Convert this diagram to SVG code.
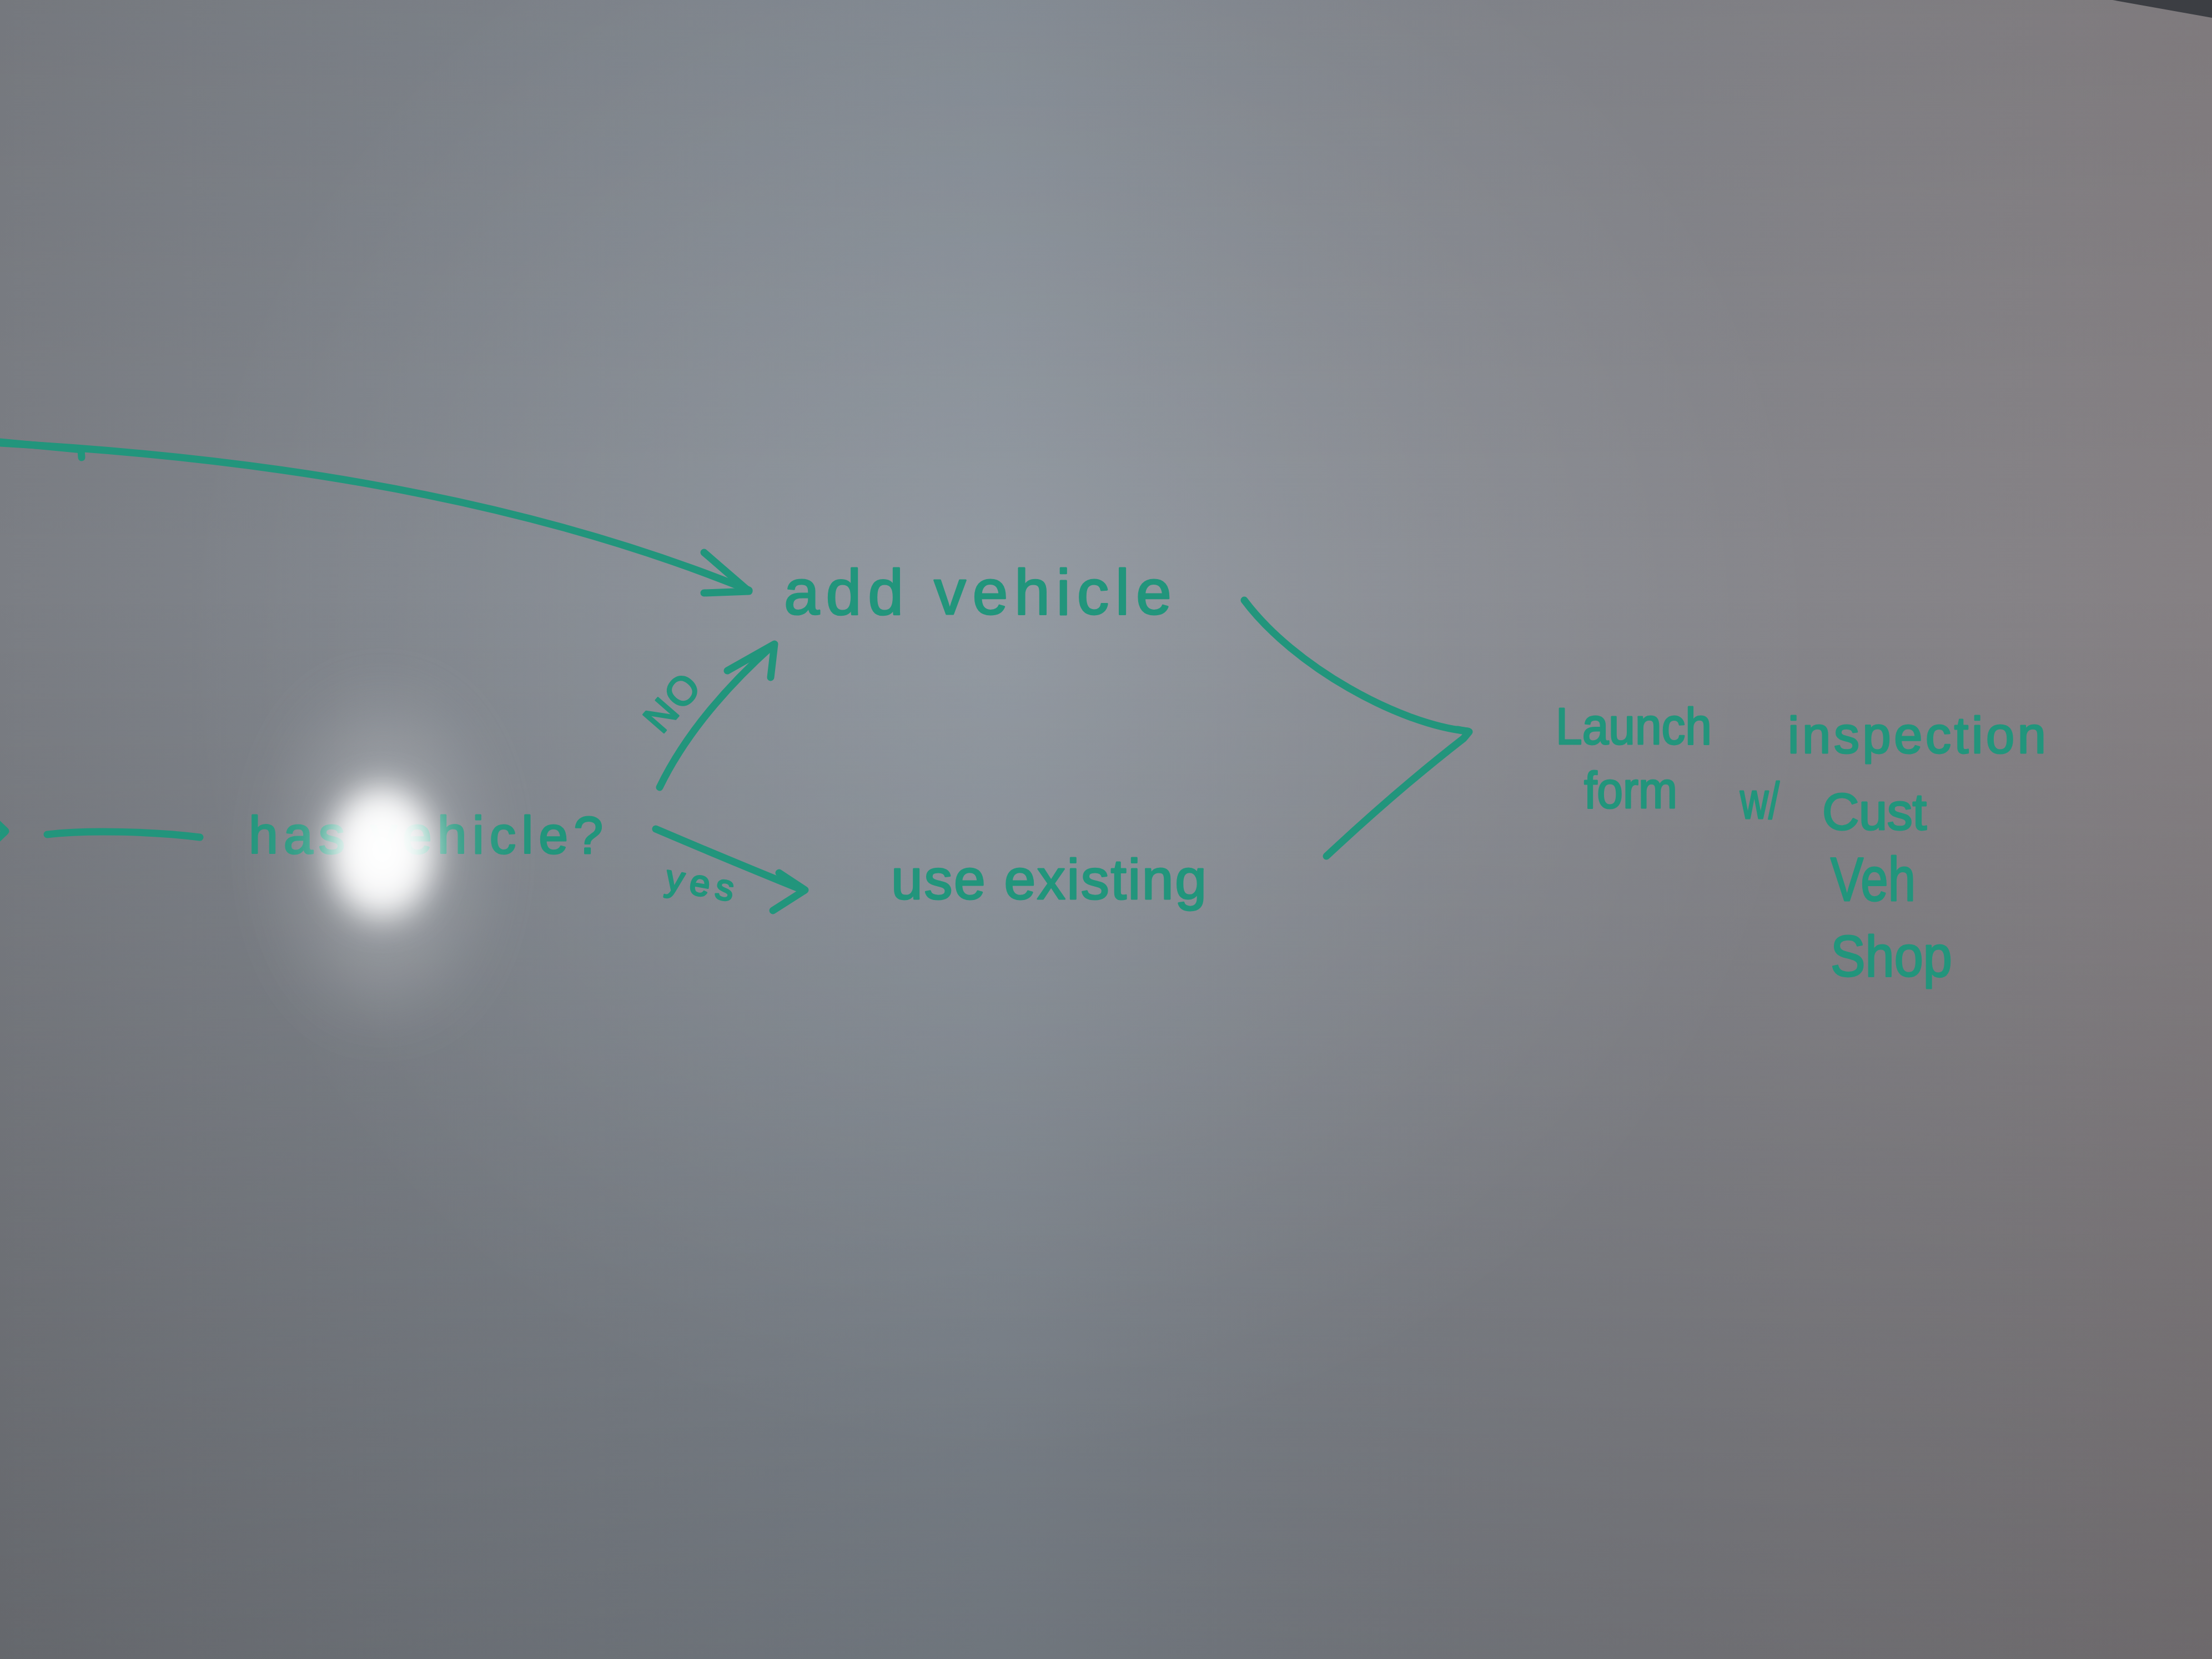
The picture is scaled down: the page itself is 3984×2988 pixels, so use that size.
<svg xmlns="http://www.w3.org/2000/svg" width="3984" height="2988" viewBox="0 0 3984 2988">
  <defs>
    <style>
      .ink { fill: none; stroke: #22957c; stroke-width: 13; stroke-linecap: round; stroke-linejoin: round; }
      .hand { fill: #22957c; stroke: #22957c; stroke-width: 3; stroke-linejoin: round; font-family: "Liberation Sans", "DejaVu Sans", sans-serif; }
    </style>
    <linearGradient id="boardH" x1="0" y1="0" x2="1" y2="0">
      <stop offset="0" stop-color="#7b7e84"/>
      <stop offset="0.45" stop-color="#878f98"/>
      <stop offset="1" stop-color="#858083"/>
    </linearGradient>
    <linearGradient id="boardV" x1="0" y1="0" x2="0" y2="1">
      <stop offset="0" stop-color="#000" stop-opacity="0.05"/>
      <stop offset="0.35" stop-color="#000" stop-opacity="0"/>
      <stop offset="1" stop-color="#000" stop-opacity="0.18"/>
    </linearGradient>
    <radialGradient id="boardLight" cx="1800" cy="1150" r="1500" gradientUnits="userSpaceOnUse">
      <stop offset="0" stop-color="#fff" stop-opacity="0.1"/>
      <stop offset="1" stop-color="#fff" stop-opacity="0"/>
    </radialGradient>
    <filter id="soft" x="-100%" y="-100%" width="300%" height="300%">
      <feGaussianBlur stdDeviation="30"/>
    </filter>
    <filter id="softWide" x="-100%" y="-100%" width="300%" height="300%">
      <feGaussianBlur stdDeviation="70"/>
    </filter>
  </defs>

  <!-- whiteboard surface -->
  <rect width="3984" height="2988" fill="url(#boardH)"/>
  <rect width="3984" height="2988" fill="url(#boardV)"/>
  <rect width="3984" height="2988" fill="url(#boardLight)"/>
  <!-- frame edge in the top right corner -->
  <polygon points="3805,0 3984,0 3984,32" fill="#3c3e43"/>

  <!-- connectors -->
  <g id="connectors">
    <!-- long arrow from the left into "add vehicle" -->
    <path class="ink" d="M0,798 C400,820 900,880 1349,1063"/>
    <path class="ink" stroke-width="18" d="M0,796 L148,810"/>
    <path class="ink" d="M146,810 L147,824"/>
    <path class="ink" d="M1268,995 L1349,1065 L1268,1068"/>
    <!-- incoming line to "has vehicle?" -->
    <path class="ink" d="M-30,1458 L10,1497 L-30,1536"/>
    <path class="ink" stroke-width="15" d="M85,1503 C160,1494 280,1498 360,1508"/>
    <!-- NO branch -->
    <path class="ink" d="M1188,1418 Q1250,1290 1390,1164"/>
    <path class="ink" d="M1310,1208 L1395,1160 L1388,1220"/>
    <!-- yes branch -->
    <path class="ink" d="M1181,1493 Q1310,1548 1448,1604"/>
    <path class="ink" d="M1403,1572 L1450,1603 L1392,1640"/>
    <!-- both branches join into the launch step -->
    <path class="ink" d="M2241,1081 C2330,1200 2520,1305 2644,1317"/>
    <path class="ink" d="M2625,1314 L2646,1318 L2636,1330 Q2520,1420 2389,1542"/>
  </g>

  <g id="node-add-vehicle">
    <text class="hand" x="1412" y="1106" font-size="115" textLength="698" lengthAdjust="spacing">add vehicle</text>
  </g>

  <g id="node-has-vehicle">
    <text class="hand" x="448" y="1537" font-size="95" textLength="638" lengthAdjust="spacing">has vehicle?</text>
  </g>

  <g id="node-use-existing">
    <text class="hand" x="1605" y="1619" font-size="102" textLength="568" lengthAdjust="spacing">use existing</text>
  </g>

  <g id="label-no">
    <text class="hand" font-size="72" textLength="112" lengthAdjust="spacing" transform="translate(1192,1324) rotate(-49)">NO</text>
  </g>

  <g id="label-yes">
    <text class="hand" font-size="66" textLength="124" lengthAdjust="spacing" transform="translate(1196,1602) rotate(10)">yes</text>
  </g>

  <g id="node-launch-inspection">
    <text class="hand" x="2802" y="1340" font-size="92" textLength="281" lengthAdjust="spacingAndGlyphs">Launch</text>
    <text class="hand" x="3220" y="1356" font-size="92" textLength="465" lengthAdjust="spacing">inspection</text>
    <text class="hand" x="2853" y="1455" font-size="92" textLength="168" lengthAdjust="spacingAndGlyphs">form</text>
    <text class="hand" x="3134" y="1474" font-size="92" textLength="71" lengthAdjust="spacingAndGlyphs">w/</text>
    <text class="hand" x="3282" y="1494" font-size="92" textLength="188" lengthAdjust="spacing">Cust</text>
    <text class="hand" x="3297" y="1622" font-size="112" textLength="153" lengthAdjust="spacingAndGlyphs">Veh</text>
    <text class="hand" x="3297" y="1758" font-size="104" textLength="219" lengthAdjust="spacingAndGlyphs">Shop</text>
  </g>

  <!-- light reflection on the board surface -->
  <g id="glare">
    <ellipse cx="690" cy="1540" rx="150" ry="260" fill="#ffffff" opacity="0.22" filter="url(#softWide)"/>
    <ellipse cx="688" cy="1535" rx="95" ry="120" fill="#ffffff" opacity="0.9" filter="url(#soft)"/>
    <ellipse cx="688" cy="1530" rx="55" ry="70" fill="#ffffff" filter="url(#soft)"/>
  </g>
</svg>
